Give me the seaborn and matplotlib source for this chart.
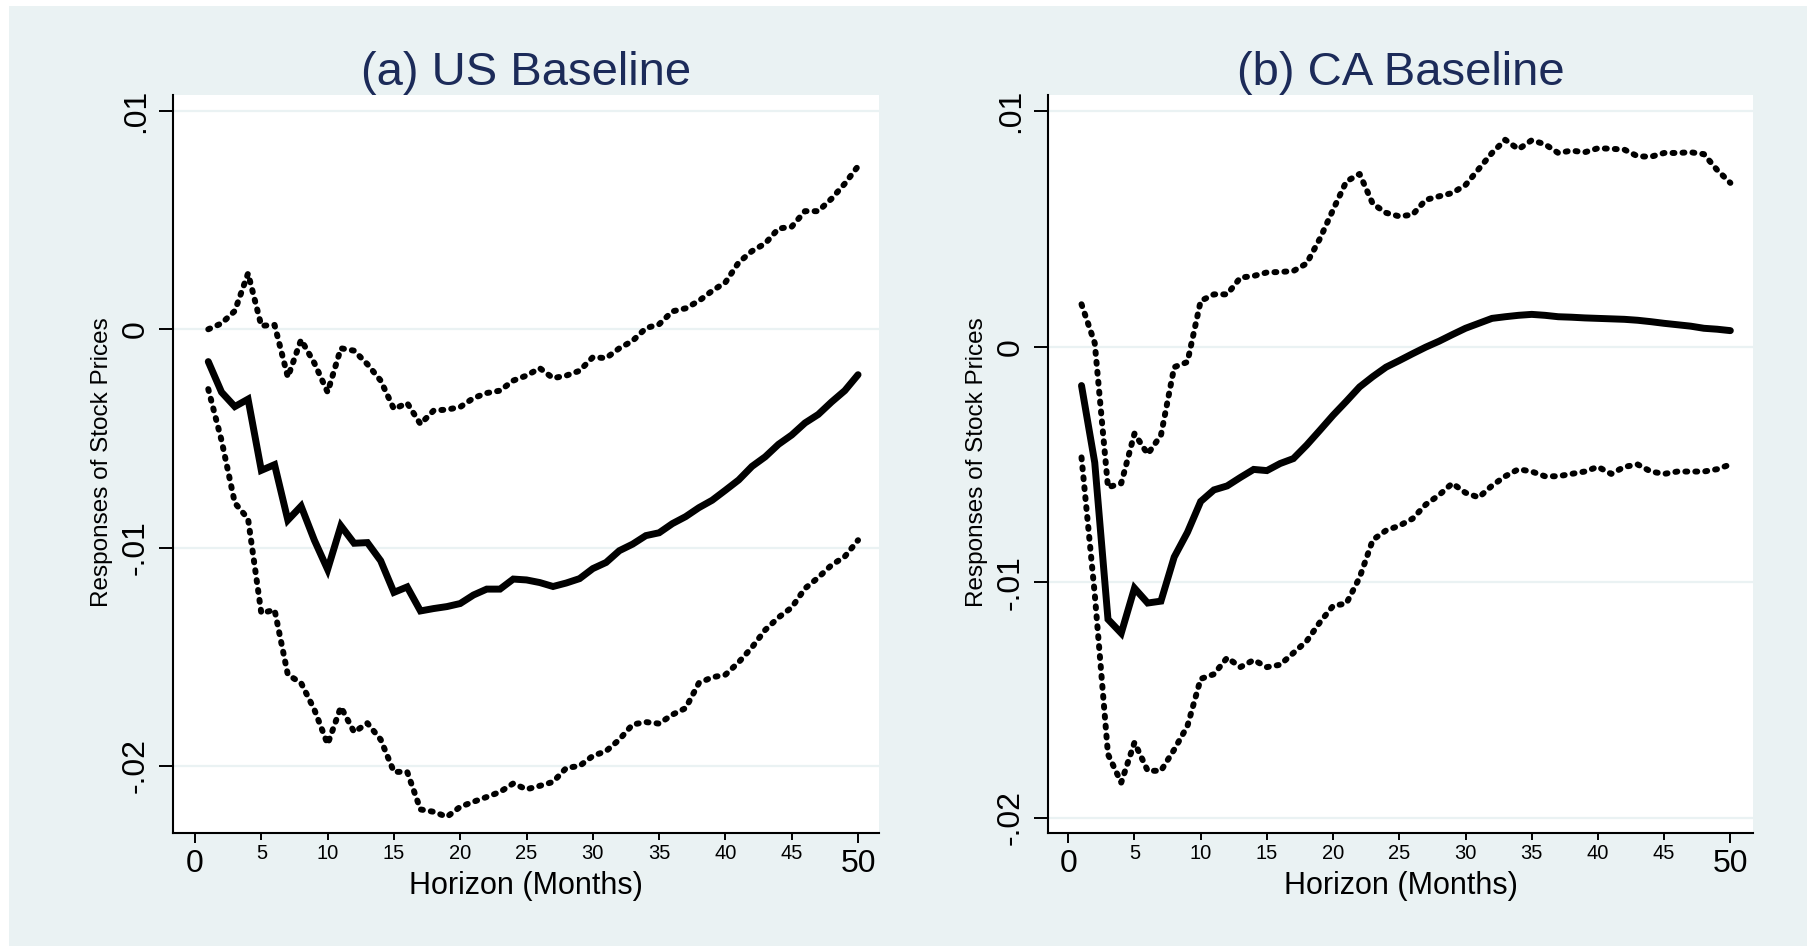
import numpy as np
import pandas as pd
import matplotlib
matplotlib.use('Agg')
import matplotlib.pyplot as plt
import seaborn as sns
from matplotlib.patches import Rectangle

# ==========================================
# 数据 (从图中读取的脉冲响应)
# ==========================================
horizon = list(range(1, 51))

us_mid = [-0.00148, -0.00288, -0.00354, -0.0032, -0.00646, -0.0062, -0.00874, -0.0081, -0.00966, -0.0110,
          -0.0090, -0.0098, -0.00977, -0.0106, -0.01205, -0.0118, -0.0129, -0.01279, -0.0127, -0.01256,
          -0.01217, -0.0119, -0.0119, -0.01144, -0.01148, -0.0116, -0.01178, -0.01162, -0.01142, -0.01096,
          -0.01068, -0.01014, -0.00984, -0.00945, -0.00932, -0.0089, -0.00858, -0.00817, -0.00783, -0.00737,
          -0.0069, -0.00628, -0.00584, -0.00527, -0.00484, -0.00429, -0.0039, -0.00333, -0.00281, -0.00208]
us_upper = [0.0, 0.00027, 0.00084, 0.00256, 0.00016, 0.0002, -0.00219, -0.00048, -0.00155, -0.00288,
            -0.00087, -0.00098, -0.0016, -0.00235, -0.00365, -0.00338, -0.00434, -0.00372, -0.00368, -0.00356,
            -0.00315, -0.00292, -0.00281, -0.00235, -0.00212, -0.00178, -0.00224, -0.00212, -0.0019, -0.00128,
            -0.00132, -0.00087, -0.00053, 0.00005, 0.00023, 0.00082, 0.00096, 0.0013, 0.00176, 0.00215,
            0.00306, 0.00358, 0.00393, 0.00461, 0.0047, 0.00541, 0.00541, 0.00598, 0.00667, 0.00747]
us_lower = [-0.00274, -0.00509, -0.00795, -0.00868, -0.0130, -0.01285, -0.01582, -0.0162, -0.01742, -0.0190,
            -0.0173, -0.01845, -0.01804, -0.01879, -0.02027, -0.02027, -0.02199, -0.0221, -0.02233, -0.02187,
            -0.02164, -0.02142, -0.02119, -0.0208, -0.02107, -0.02091, -0.02073, -0.02009, -0.0200, -0.01954,
            -0.01932, -0.01879, -0.0181, -0.01799, -0.01806, -0.01765, -0.01735, -0.0162, -0.01594, -0.01582,
            -0.01525, -0.01457, -0.01377, -0.0132, -0.01274, -0.01187, -0.01137, -0.0108, -0.01041, -0.00966]

ca_mid = [-0.00165, -0.00492, -0.01157, -0.01216, -0.01025, -0.01088, -0.0108, -0.00893, -0.00788, -0.00657,
          -0.00608, -0.00591, -0.00555, -0.00521, -0.00526, -0.00496, -0.00475, -0.00418, -0.00355, -0.00291,
          -0.00232, -0.00171, -0.00127, -0.00087, -0.00059, -0.0003, -0.00002, 0.00023, 0.00051, 0.00078,
          0.00099, 0.0012, 0.00127, 0.00133, 0.00137, 0.00133, 0.00127, 0.00125, 0.00122, 0.0012,
          0.00118, 0.00116, 0.00112, 0.00106, 0.00099, 0.00093, 0.00087, 0.00078, 0.00074, 0.00068]
ca_upper = [0.0018, 0.00015, -0.00597, -0.0058, -0.00369, -0.00456, -0.00376, -0.00087, -0.00065, 0.00194,
            0.00222, 0.00222, 0.00293, 0.003, 0.00315, 0.00317, 0.00321, 0.00353, 0.00458, 0.00581,
            0.00701, 0.00733, 0.00606, 0.00568, 0.00553, 0.0056, 0.00623, 0.00638, 0.00652, 0.00686,
            0.00754, 0.00822, 0.00878, 0.00838, 0.00876, 0.00859, 0.00822, 0.00832, 0.00825, 0.00842,
            0.0084, 0.00836, 0.00808, 0.00806, 0.00822, 0.00822, 0.00825, 0.00817, 0.0075, 0.00695]
ca_lower = [-0.0047, -0.0105, -0.0173, -0.0185, -0.0168, -0.0180, -0.0180, -0.0171, -0.0161, -0.0141,
            -0.0139, -0.0132, -0.0136, -0.0133, -0.0136, -0.0135, -0.0130, -0.0125, -0.0117, -0.0110,
            -0.0109, -0.0098, -0.0082, -0.0078, -0.0076, -0.0073, -0.0067, -0.0063, -0.0058, -0.0062,
            -0.0064, -0.0059, -0.0055, -0.0052, -0.0053, -0.0055, -0.0055, -0.0054, -0.0053, -0.0051,
            -0.0054, -0.0051, -0.0050, -0.0053, -0.0054, -0.0053, -0.0053, -0.0053, -0.0052, -0.0050]

panel_titles = ['(a) US Baseline', '(b) CA Baseline']
ytick_vals = [0.01, 0.0, -0.01, -0.02]
ytick_labels = ['.01', '0', '-.01', '-.02']
xmajor_vals = [0, 50]
xminor_vals = [5, 10, 15, 20, 25, 30, 35, 40, 45]

# ==========================================
# 样式
# ==========================================
sns.set_theme(style='white')
plt.rcParams['font.family'] = ['Liberation Sans', 'DejaVu Sans']

BG = '#EAF2F3'
NAVY = '#1c2b59'
W, H = 1807, 946

fig = plt.figure(figsize=(W / 100, H / 100), dpi=100, facecolor='white')
fig.patches.append(Rectangle((9 / W, 0), 1, 1 - 6 / H, transform=fig.transFigure,
                             facecolor=BG, edgecolor='none', zorder=-10))


def px_axes(x0, x1, y_top, y_bot):
    return fig.add_axes([x0 / W, (H - y_bot) / H, (x1 - x0) / W, (y_bot - y_top) / H])


ax_us = px_axes(173, 879, 95, 833)
ax_ca = px_axes(1048, 1753, 95, 833)

panels = [
    (ax_us, us_mid, us_upper, us_lower, (-1.66, 51.58), (-0.02307, 0.01073)),
    (ax_ca, ca_mid, ca_upper, ca_lower, (-1.53, 51.71), (-0.02064, 0.01068)),
]

for i, (ax, mid, up, lo, xl, yl) in enumerate(panels):
    df = pd.DataFrame({'horizon': horizon, 'mid': mid, 'upper': up, 'lower': lo})
    ax.set_facecolor('white')

    # 网格线
    for yv in ytick_vals:
        ax.axhline(yv, color=BG, lw=1.6, zorder=0)

    # 置信区间 (点线)
    for col in ['upper', 'lower']:
        sns.lineplot(data=df, x='horizon', y=col, ax=ax, color='black', lw=4.3,
                     linestyle=(0, (0.33, 1.34)), dash_capstyle='round', zorder=3)
    # 点估计 (实线)
    sns.lineplot(data=df, x='horizon', y='mid', ax=ax, color='black', lw=5,
                 solid_joinstyle='miter', zorder=4)

    ax.set_xlim(*xl)
    ax.set_ylim(*yl)

    for s in ['top', 'right']:
        ax.spines[s].set_visible(False)
    for s in ['left', 'bottom']:
        ax.spines[s].set_color('black')
        ax.spines[s].set_linewidth(1.5)

    ax.set_yticks(ytick_vals)
    ax.set_yticklabels(ytick_labels, rotation=90, va='center', fontsize=23)
    ax.tick_params(axis='y', which='major', length=10, width=1.4, color='black',
                   pad=6, left=True, labelcolor='black')

    ax.set_xticks(xmajor_vals)
    ax.set_xticklabels([str(v) for v in xmajor_vals], fontsize=23)
    ax.set_xticks(xminor_vals, minor=True)
    ax.set_xticklabels([str(v) for v in xminor_vals], minor=True, fontsize=14.5)
    ax.tick_params(axis='x', which='major', length=7.5, width=1.4, color='black',
                   pad=4, bottom=True, labelcolor='black')
    ax.tick_params(axis='x', which='minor', length=5, width=1.4, color='black',
                   pad=3, bottom=True, labelcolor='black')
    ax.grid(False)

    ax.set_xlabel('Horizon (Months)', fontsize=22, color='black')
    ax.xaxis.set_label_coords(0.5, -0.072)
    ax.get_xaxis().label.set_va('center')

    ax.set_ylabel('Responses of Stock Prices', fontsize=17.5, color='black', va='center')
    ax.yaxis.set_label_coords(-71 / 706, 0.503)

    ax.text(0.5, 1.0304, panel_titles[i], transform=ax.transAxes, ha='center', va='center',
            fontsize=34, color=NAVY)

fig.savefig('out.png', dpi=100, facecolor=fig.get_facecolor())
